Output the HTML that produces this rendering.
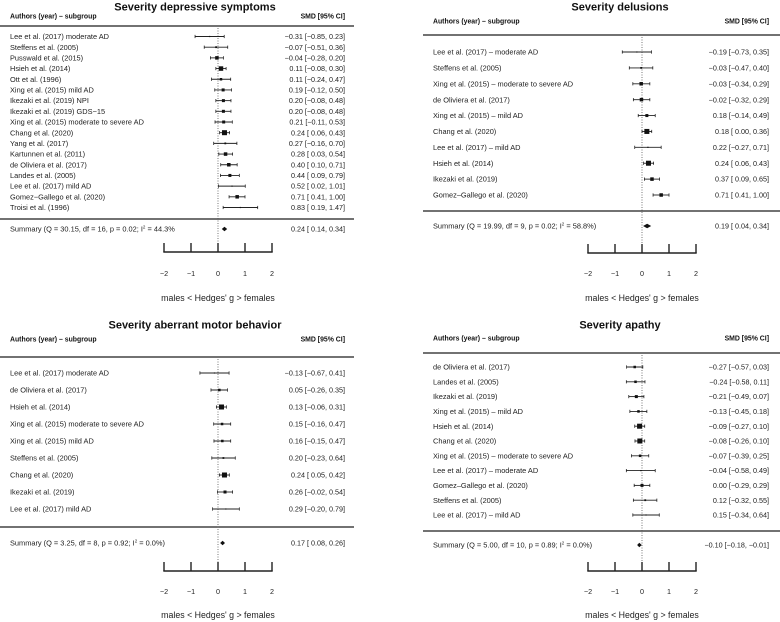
<!DOCTYPE html>
<html><head><meta charset="utf-8"><style>
html,body{margin:0;padding:0;background:#fff;}
svg{display:block;font-family:"Liberation Sans",sans-serif;}
</style></head><body>
<svg id="chart" width="780" height="622" viewBox="0 0 780 622"></svg>
<script>
// Panel A: depressive symptoms
const depLabels=["Lee et al. (2017) moderate AD","Steffens et al. (2005)","Pusswald et al. (2015)","Hsieh et al. (2014)","Ott et al. (1996)","Xing et al. (2015) mild AD","Ikezaki et al. (2019) NPI","Ikezaki et al. (2019) GDS−15","Xing et al. (2015) moderate to severe AD","Chang et al. (2020)","Yang et al. (2017)","Kartunnen et al. (2011)","de Oliviera et al. (2017)","Landes et al. (2005)","Lee et al. (2017) mild AD","Gomez−Gallego et al. (2020)","Troisi et al. (1996)"];
const depEst=[-0.31,-0.07,-0.04,0.11,0.11,0.19,0.20,0.20,0.21,0.24,0.27,0.28,0.40,0.44,0.52,0.71,0.83];
const depLo=[-0.85,-0.51,-0.28,-0.08,-0.24,-0.12,-0.08,-0.08,-0.11,0.06,-0.16,0.03,0.10,0.09,0.02,0.41,0.19];
const depHi=[0.23,0.36,0.20,0.30,0.47,0.50,0.48,0.48,0.53,0.43,0.70,0.54,0.71,0.79,1.01,1.00,1.47];
const depW=[1.2,1.8,3.5,4.5,2.5,3,3,3,3,5,1.8,3.5,3.5,3,1.2,3.5,1.2];
const depSum=[0.24,0.14,0.34];
// Panel B: delusions
const delLabels=["Lee et al. (2017) – moderate AD","Steffens et al. (2005)","Xing et al. (2015) – moderate to severe AD","de Oliviera et al. (2017)","Xing et al. (2015) – mild AD","Chang et al. (2020)","Lee et al. (2017) – mild AD","Hsieh et al. (2014)","Ikezaki et al. (2019)","Gomez–Gallego et al. (2020)"];
const delEst=[-0.19,-0.03,-0.03,-0.02,0.18,0.18,0.22,0.24,0.37,0.71];
const delLo=[-0.73,-0.47,-0.34,-0.32,-0.14,-0.00,-0.27,0.06,0.09,0.41];
const delHi=[0.35,0.40,0.29,0.29,0.49,0.36,0.71,0.43,0.65,1.00];
const delW=[1.2,1.8,3.5,3.5,3,5,1.2,5,3.5,3.5];
const delSum=[0.19,0.04,0.34];
// Panel C: aberrant motor behavior
const motLabels=["Lee et al. (2017) moderate AD","de Oliviera et al. (2017)","Hsieh et al. (2014)","Xing et al. (2015) moderate to severe AD","Xing et al. (2015) mild AD","Steffens et al. (2005)","Chang et al. (2020)","Ikezaki et al. (2019)","Lee et al. (2017) mild AD"];
const motEst=[-0.13,0.05,0.13,0.15,0.16,0.20,0.24,0.26,0.29];
const motLo=[-0.67,-0.26,-0.06,-0.16,-0.15,-0.23,0.05,-0.02,-0.20];
const motHi=[0.41,0.35,0.31,0.47,0.47,0.64,0.42,0.54,0.79];
const motW=[1.2,2.5,5,2.5,2.5,1.8,5,3,1.2];
const motSum=[0.17,0.08,0.26];
// Panel D: apathy
const apaLabels=["de Oliviera et al. (2017)","Landes et al. (2005)","Ikezaki et al. (2019)","Xing et al. (2015) – mild AD","Hsieh et al. (2014)","Chang et al. (2020)","Xing et al. (2015) – moderate to severe AD","Lee et al. (2017) – moderate AD","Gomez–Gallego et al. (2020)","Steffens et al. (2005)","Lee et al. (2017) – mild AD"];
const apaEst=[-0.27,-0.24,-0.21,-0.13,-0.09,-0.08,-0.07,-0.04,0.00,0.12,0.15];
const apaLo=[-0.57,-0.58,-0.49,-0.45,-0.27,-0.26,-0.39,-0.58,-0.29,-0.32,-0.34];
const apaHi=[0.03,0.11,0.07,0.18,0.10,0.10,0.25,0.49,0.29,0.55,0.64];
const apaW=[2.5,2.5,3,2.5,5,5,2.5,1.2,3,1.8,1.2];
const apaSum=[-0.10,-0.18,-0.01];
const ticks=[-2,-1,0,1,2];

const panels=[
 {key:"dep",title:"Severity depressive symptoms",summary:"Summary (Q = 30.15, df = 16, p = 0.02; I",summary2:" = 44.3%",labels:depLabels,est:depEst,lo:depLo,hi:depHi,w:depW,sum:depSum,
  ox:0,lx:10,vx:345,lineX0:0,lineX1:354,titleY:6,headY:16,lineY:26,row0:36.5,rowN:207.5,sepY:219,sumY:229,axY:252,tickTop:243,tlY:276,atY:301,x0:218,scale:27},
 {key:"del",title:"Severity delusions",summary:"Summary (Q = 19.99, df = 9, p = 0.02; I",summary2:" = 58.8%)",labels:delLabels,est:delEst,lo:delLo,hi:delHi,w:delW,sum:delSum,
  ox:390,lx:433,vx:769,lineX0:423,lineX1:780,titleY:6,headY:21,lineY:35,row0:52,rowN:195,sepY:211,sumY:226,axY:253,tickTop:244,tlY:276,atY:301,x0:642,scale:27},
 {key:"mot",title:"Severity aberrant motor behavior",summary:"Summary (Q = 3.25, df = 8, p = 0.92; I",summary2:" = 0.0%)",labels:motLabels,est:motEst,lo:motLo,hi:motHi,w:motW,sum:motSum,
  ox:0,lx:10,vx:345,lineX0:0,lineX1:354,titleY:324,headY:339,lineY:357,row0:373,rowN:509,sepY:527,sumY:543,axY:571,tickTop:562,tlY:594,atY:618,x0:218,scale:27},
 {key:"apa",title:"Severity apathy",summary:"Summary (Q = 5.00, df = 10, p = 0.89; I",summary2:" = 0.0%)",labels:apaLabels,est:apaEst,lo:apaLo,hi:apaHi,w:apaW,sum:apaSum,
  ox:390,lx:433,vx:769,lineX0:423,lineX1:780,titleY:324,headY:338,lineY:353,row0:367,rowN:515,sepY:531,sumY:545,axY:571,tickTop:562,tlY:594,atY:618,x0:642,scale:27}
];
const NS="http://www.w3.org/2000/svg";
const svg=document.getElementById("chart");
function mk(tag,attrs,parent){const e=document.createElementNS(NS,tag);for(const k in attrs)e.setAttribute(k,attrs[k]);(parent||svg).appendChild(e);return e;}
function f(v){const s=Math.abs(v).toFixed(2);return (v<0||Object.is(v,-0)?"−":"")+s;}
function fl(v){return v<0?"−"+Math.abs(v).toFixed(2):" "+v.toFixed(2);}
function fmt(e,l,h){return f(e)+" ["+fl(l)+", "+(h<0?"−"+Math.abs(h).toFixed(2):h.toFixed(2))+"]";}
panels.forEach(p=>{
 const g=mk("g",{});
 
 
 const xs=v=>p.x0+v*p.scale;
 const n=p.labels.length;
 const ys=i=>n>1?p.row0+i*(p.rowN-p.row0)/(n-1):p.row0;
 const t=mk("text",{x:p.ox===0?195:620,y:p.titleY+4.5,"text-anchor":"middle","font-size":"11","font-weight":"bold",fill:"#111"},g);t.textContent=p.title;
 
 
 const h1=mk("text",{x:p.lx,y:p.headY+2.5,"font-size":"6.9","font-weight":"bold",fill:"#111"},g);h1.textContent="Authors (year) – subgroup";
 
 
 const h2=mk("text",{x:p.vx,y:p.headY+2.5,"font-size":"6.9","font-weight":"bold","text-anchor":"end",fill:"#111"},g);h2.textContent="SMD [95% CI]";
 
 
 const l1=mk("line",{x1:p.lineX0,x2:p.lineX1,y1:p.lineY,y2:p.lineY,stroke:"#444","stroke-width":"1.4"},g);
 
 
 const l2=mk("line",{x1:p.lineX0,x2:p.lineX1,y1:p.sepY,y2:p.sepY,stroke:"#444","stroke-width":"1.4"},g);
 
 
 const z=mk("line",{x1:xs(0),x2:xs(0),y1:p.lineY+2,y2:p.axY-1,stroke:"#555","stroke-width":"0.8","stroke-dasharray":"1,1.5"},g);
 
 
 for(let i=0;i<n;i++){
  const y=ys(i);
  const lt=mk("text",{x:p.lx,y:y+2.6,"font-size":"7.4",fill:"#222"},g);lt.textContent=p.labels[i];
  
  
  const ci=mk("line",{x1:xs(p.lo[i]),x2:xs(p.hi[i]),y1:y,y2:y,stroke:"#222","stroke-width":"0.9"},g);
  
  
  [p.lo[i],p.hi[i]].forEach(v=>{const c=mk("line",{x1:xs(v),x2:xs(v),y1:y-1.6,y2:y+1.6,stroke:"#222","stroke-width":"0.8"},g);
   
   });
  const s=p.w[i];
  const sq=mk("rect",{x:xs(p.est[i])-s/2,y:y-s/2,width:s,height:s,fill:"#111"},g);
  
  
  const vt=mk("text",{x:p.vx,y:y+2.6,"font-size":"7.2","text-anchor":"end",fill:"#222","xml:space":"preserve"},g);vt.textContent=fmt(p.est[i],p.lo[i],p.hi[i]);
  
  
 }
 const sy=p.sumY;
 const st=mk("text",{x:p.lx,y:sy+2.6,"font-size":"7.4",fill:"#222"},g);
 
 
 st.appendChild(document.createTextNode(p.summary));
 const sup=mk("tspan",{"font-size":"4.5",dy:"-3"},st);sup.textContent="2";
 const rest=mk("tspan",{dy:"3"},st);rest.textContent=p.summary2;
 const d=mk("polygon",{points:`${xs(p.sum[1])},${sy} ${xs(p.sum[0])},${sy-2.2} ${xs(p.sum[2])},${sy} ${xs(p.sum[0])},${sy+2.2}`,fill:"#111"},g);
 
 
 const svt=mk("text",{x:p.vx,y:sy+2.6,"font-size":"7.2","text-anchor":"end",fill:"#222","xml:space":"preserve"},g);svt.textContent=fmt(p.sum[0],p.sum[1],p.sum[2]);
 
 
 const ax=mk("line",{x1:xs(ticks[0])-0.7,x2:xs(ticks[ticks.length-1])+0.7,y1:p.axY,y2:p.axY,stroke:"#222","stroke-width":"1.4"},g);
 
 
 ticks.forEach(tv=>{
  const tk=mk("line",{x1:xs(tv),x2:xs(tv),y1:p.tickTop,y2:p.axY,stroke:"#222","stroke-width":"1.4"},g);
  
  
  const tl=mk("text",{x:xs(tv),y:p.tlY,"font-size":"7.2","text-anchor":"middle",fill:"#222"},g);tl.textContent=tv<0?"−"+Math.abs(tv):String(tv);
  
  
 });
 const at=mk("text",{x:xs(0),y:p.atY,"font-size":"8.8","text-anchor":"middle",fill:"#222"},g);at.textContent="males < Hedges' g > females";
 
 
});
</script>
</body></html>
